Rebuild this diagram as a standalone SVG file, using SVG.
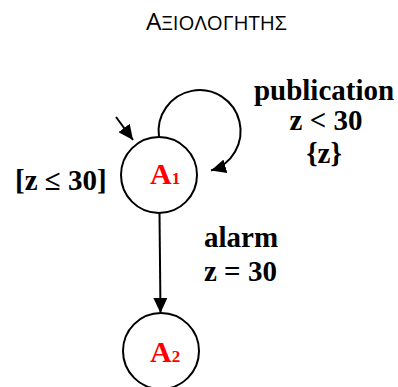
<svg xmlns="http://www.w3.org/2000/svg" width="398" height="387" viewBox="0 0 398 387">
<defs>
<style>
.st{fill:#fff;stroke:#000;stroke-width:2}
.ln{fill:none;stroke:#000;stroke-width:2}
.lb{font-family:"Liberation Serif","Times New Roman",serif;font-weight:bold;font-size:29px;fill:#000}
.nm{font-family:"Liberation Serif","Times New Roman",serif;font-weight:bold;font-size:30px;fill:#f00}
.sub{font-size:17px}
.ttl{font-family:"Open Sans","Noto Sans",sans-serif;fill:#000}
</style>
<marker id="ah" markerUnits="userSpaceOnUse" markerWidth="16" markerHeight="14" refX="15" refY="7" orient="auto">
<path d="M0,0 L15,7 L0,14 z" fill="#000"/>
</marker>
</defs>
<rect width="398" height="387" fill="#fff"/>
<text class="ttl" x="146" y="29.5"><tspan font-size="24.5">Α</tspan><tspan font-size="20.5">ΞΙΟΛΟΓΗΤΗΣ</tspan></text>
<g id="connectors">
<path class="ln" d="M116,117 L133,140" marker-end="url(#ah)"/>
<path class="ln" d="M159,137 A41,41 0 1 1 211,170.5" marker-end="url(#ah)"/>
<path class="ln" d="M159.5,213 L160.5,313" marker-end="url(#ah)"/>
</g>
<g id="A1">
<circle class="st" cx="159" cy="175" r="38"/>
<text class="nm" x="150" y="184">A<tspan class="sub">1</tspan></text>
</g>
<g id="A2">
<circle class="st" cx="161" cy="351" r="38"/>
<text class="nm" x="150" y="362">A<tspan class="sub">2</tspan></text>
</g>
<g id="labels">
<text class="lb" x="324" y="100" text-anchor="middle">publication</text>
<text class="lb" x="326" y="130" text-anchor="middle">z &lt; 30</text>
<text class="lb" x="324" y="163" text-anchor="middle">{z}</text>
<text class="lb" x="15" y="190">[z ≤ 30]</text>
<text class="lb" x="204" y="247">alarm</text>
<text class="lb" x="204" y="281">z = 30</text>
</g>
</svg>
